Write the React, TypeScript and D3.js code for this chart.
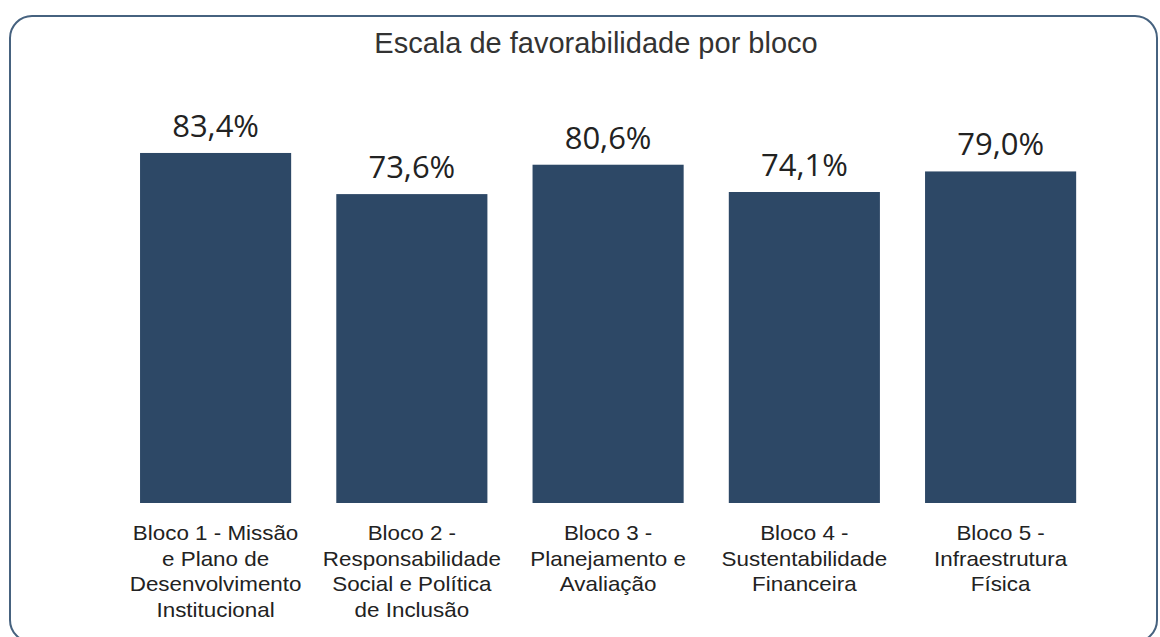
import React, { useEffect, useRef } from 'react';
import * as d3 from 'd3';

const title = 'Escala de favorabilidade por bloco';

const categories = ['Bloco 1', 'Bloco 2', 'Bloco 3', 'Bloco 4', 'Bloco 5'];

const values = [83.4, 73.6, 80.6, 74.1, 79.0];

// wrapped tick labels, one list of lines per category
const tickLabels = [
    ['Bloco 1 - Missão', 'e Plano de', 'Desenvolvimento', 'Institucional'],
    ['Bloco 2 -', 'Responsabilidade', 'Social e Política', 'de Inclusão'],
    ['Bloco 3 -', 'Planejamento e', 'Avaliação'],
    ['Bloco 4 -', 'Sustentabilidade', 'Financeira'],
    ['Bloco 5 -', 'Infraestrutura', 'Física'],
];

const width = 1160;
const height = 637;

export default function App() {
    const ref = useRef<SVGSVGElement>(null);

    useEffect(() => {
        const svg = d3.select(ref.current);
        svg.selectAll('*').remove();

        // card frame, bottom edge runs just past the picture
        svg.append('rect')
            .attr('x', 10)
            .attr('y', 16)
            .attr('width', 1147)
            .attr('height', 626)
            .attr('rx', 22)
            .attr('fill', '#fff')
            .attr('stroke', '#46627f')
            .attr('stroke-width', 2);

        svg.append('text')
            .attr('x', 596)
            .attr('y', 53)
            .attr('text-anchor', 'middle')
            .attr('font-family', 'Liberation Sans, Arial, sans-serif')
            .attr('font-size', 29)
            .attr('fill', '#333')
            .text(title);

        const x = d3.scaleBand()
            .domain(categories)
            .range([94.9, 1121.3])
            .paddingInner(0.23)
            .paddingOuter(0.23);

        const y = d3.scaleLinear()
            .domain([0, 100])
            .range([503, 83.3]);

        const g = svg.append('g');

        g.selectAll('rect.bar')
            .data(values)
            .enter()
                .append('rect')
                .attr('class', 'bar')
                .attr('x', (d, i) => x(categories[i]) as number)
                .attr('y', d => y(d))
                .attr('width', x.bandwidth())
                .attr('height', d => y(0) - y(d))
                .attr('fill', '#2d4866');

        g.selectAll('text.value')
            .data(values)
            .enter()
                .append('text')
                .attr('class', 'value')
                .attr('x', (d, i) => (x(categories[i]) as number) + x.bandwidth() / 2)
                .attr('y', d => y(d) - 16)
                .attr('text-anchor', 'middle')
                .attr('font-family', 'Open Sans, sans-serif')
                .attr('font-size', 31)
                .attr('fill', '#222')
                .text(d => d3.format('.1f')(d).replace('.', ',') + '%');

        // category labels, a bit wider than tall like the source
        const labels = g.selectAll('text.cat')
            .data(tickLabels)
            .enter()
                .append('text')
                .attr('class', 'cat')
                .attr('transform', (d, i) => `translate(${(x(categories[i]) as number) + x.bandwidth() / 2},540) scale(1.12,1)`)
                .attr('text-anchor', 'middle')
                .attr('font-family', 'Liberation Sans, Arial, sans-serif')
                .attr('font-size', 20)
                .attr('fill', '#222');

        labels.selectAll('tspan')
            .data(d => d)
            .enter()
                .append('tspan')
                .attr('x', 0)
                .attr('y', (d, i) => i * 25.7)
                .text(d => d);
    }, []);

    return (
        <svg
            ref={ref}
            width={width}
            height={height}
            style={{ position: 'absolute', left: 0, top: 0, background: '#fff' }}
        />
    );
}
